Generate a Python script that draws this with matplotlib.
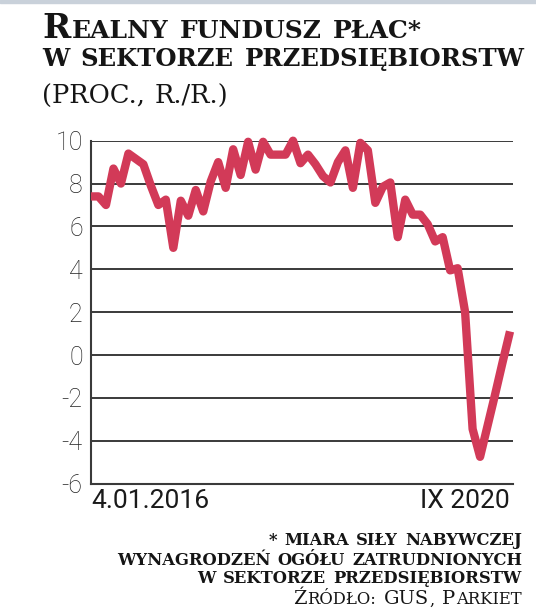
import numpy as np
import matplotlib.pyplot as plt

# monthly values, I 2016 - IX 2020 (proc., r./r.)
values = [7.4, 7.4, 7.0, 8.7, 8.0, 9.4, 9.15, 8.9, 7.9, 7.0,
          7.25, 5.0, 7.2, 6.5, 7.7, 6.7, 8.1, 9.0, 7.8, 9.6,
          8.4, 9.95, 8.65, 9.95, 9.35, 9.35, 9.35, 10.0, 8.95, 9.35,
          8.9, 8.35, 8.05, 9.0, 9.55, 7.8, 9.9, 9.55, 7.1, 7.85,
          8.05, 5.5, 7.25, 6.55, 6.55, 6.1, 5.3, 5.5, 3.95, 4.05,
          2.0, -3.45, -4.75, -3.3, -1.85, -0.35, 1.1]
months = np.arange(len(values))
yticks = [-6, -4, -2, 0, 2, 4, 6, 8, 10]
xlabels = ['4.01.2016', 'IX 2020']

title_lines = ['Realny fundusz płac*', 'w sektorze przedsiębiorstw']
subtitle = '(proc., r./r.)'
note_lines = ['* miara siły nabywczej', 'wynagrodzeń ogółu zatrudnionych',
              'w sektorze przedsiębiorstw']
source = 'Źródło: GUS, Parkiet'

W, H = 536, 608
red = '#d23a58'
grid = '#3a3a3a'
serif = 'DejaVu Serif'

fig = plt.figure(figsize=(W / 100, H / 100), dpi=100)
ax = fig.add_axes([91 / W, 1 - 483.6 / H, 422 / W, 342.9 / H])

ax.plot(months, values, color=red, linewidth=6, solid_joinstyle='round',
        solid_capstyle='butt', clip_on=False, zorder=3)
ax.set_xlim(0, 56.4)
ax.set_ylim(-6, 10)
ax.set_yticks(yticks)
ax.set_yticklabels([str(v) for v in yticks], fontfamily='Roboto',
                   fontweight='light', fontsize=18, color='#222222')
ax.set_xticks([0, 56])
ax.set_xticklabels(xlabels, fontfamily='Roboto', fontsize=19, color='#1a1a1a')
ax.get_xticklabels()[0].set_ha('left')
ax.get_xticklabels()[1].set_ha('right')
ax.tick_params(axis='y', length=0, pad=6)
ax.tick_params(axis='x', length=0, pad=4)
ax.grid(axis='y', color=grid, linewidth=1.4)
ax.set_axisbelow(True)
for s in ['top', 'right']:
    ax.spines[s].set_visible(False)
for s in ['left', 'bottom']:
    ax.spines[s].set_color(grid)
    ax.spines[s].set_linewidth(1.5)

# thin strip on top edge
fig.patches.append(plt.Rectangle((0, 1 - 3 / H), 1, 3 / H, transform=fig.transFigure,
                                 color='#c9d1da', zorder=0))

renderer = fig.canvas.get_renderer()


def smallcaps(x, y, s, big, small, weight='bold', right=False, space=0.42):
    # small caps text: capitals at size big, the rest upper-cased at size small
    runs = []
    for ch in s:
        key = 'sp' if ch == ' ' else ('big' if ch.isupper() else 'small')
        if runs and runs[-1][0] == key:
            runs[-1][1] += ch
        else:
            runs.append([key, ch])
    texts = []
    cx = 0
    for key, txt in runs:
        if key == 'sp':
            cx += len(txt) * small * space * 100 / 72
            continue
        size = big if key == 'big' else small
        t = fig.text(0, 1 - y / H, txt.upper(), fontsize=size, fontfamily=serif,
                     fontweight=weight, color='#151515', va='baseline')
        texts.append((t, cx))
        cx += t.get_window_extent(renderer).width + 1
    x0 = x - cx if right else x
    for t, off in texts:
        t.set_x((x0 + off) / W)


smallcaps(42, 38, title_lines[0], 24.5, 18)
smallcaps(42, 66, title_lines[1], 24, 17.6)
smallcaps(42, 104, subtitle, 24, 18.5, weight='normal', space=0.35)

for line, yb in zip(note_lines, [545, 565, 583]):
    smallcaps(523, yb, line, 15, 11.8, right=True, space=0.38)
smallcaps(523, 604.5, source, 14, 11.8, weight='normal', right=True, space=0.38)

fig.savefig('out.png', dpi=100)
